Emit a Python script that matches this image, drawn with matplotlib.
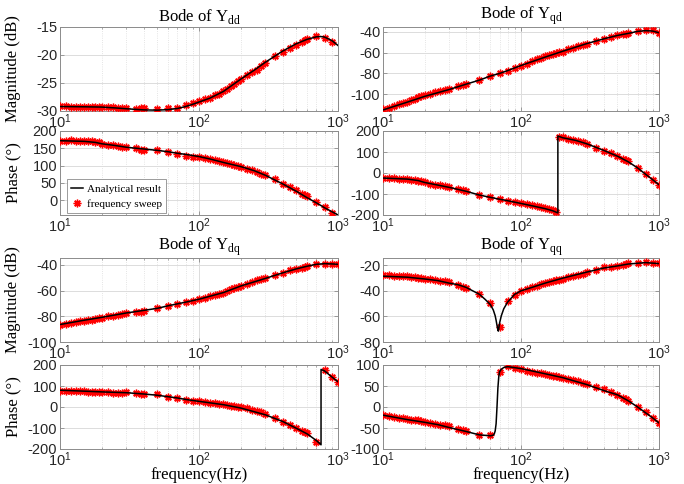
import numpy as np
import matplotlib
matplotlib.use('Agg')
import matplotlib.pyplot as plt
from matplotlib.lines import Line2D
from matplotlib.ticker import FixedLocator, FuncFormatter, LogLocator, NullFormatter

plt.rcParams['font.family'] = 'Liberation Sans'
plt.rcParams['axes.unicode_minus'] = False
plt.rcParams['mathtext.fontset'] = 'custom'
plt.rcParams['mathtext.rm'] = 'Liberation Serif'
plt.rcParams['mathtext.sf'] = 'Liberation Sans'

# --- frequency sweep points (Hz) ---
f_sweep = [10, 11, 12, 13, 14, 15, 16, 17, 18, 19, 20, 22, 24, 26, 28, 30, 35, 38, 40,
           50, 60, 70, 80, 90, 100, 110, 120, 130, 140, 150, 160, 170, 180, 190, 200,
           220, 240, 260, 280, 300, 350, 400, 450, 500, 550, 580, 600, 700, 800, 900, 1000]

# Ydd
ydd_mag_sweep = [-29.1, -29.15, -29.2, -29.2, -29.2, -29.25, -29.2, -29.25, -29.2, -29.25, -29.2,
                 -29.3, -29.35, -29.4, -29.5, -29.5, -29.6, -29.5, -29.55, -29.6, -29.55, -29.45,
                 -29.0, -28.6, -28.3, -27.9, -27.6, -27.2, -26.9, -26.5, -26.1, -25.6, -25.2,
                 -24.7, -24.3, -23.6, -23.0, -22.6, -21.9, -21.4, -20.2, -19.4, -18.8, -18.2,
                 -17.7, -17.4, -17.2, -16.6, -16.9, -17.6, np.nan]
ydd_ph_sweep = [171, 170, 173, 172, 171, 171, 170, 170, 169, 167, 162, 160, 159, 157, 155, 153,
                151, 146, 146, 144, 139, 133, 129, 124, 125, 122, 119, 116, 112, 110, 107, 105,
                102, 99, 97, 91, 87, 82, 77, 72, 62, 48, 38, 28, 19, 15, 11, -6, -21, -36, np.nan]
f_ydd_line = [10, 15, 18, 20, 25, 30, 40, 50, 60, 70, 80, 90, 100, 120, 150, 200, 250, 300,
              400, 500, 600, 700, 750, 800, 900, 1000]
ydd_mag_line = [-29.2, -29.25, -29.28, -29.3, -29.45, -29.6, -29.8, -29.85, -29.75, -29.55,
                -29.2, -28.8, -28.4, -27.7, -26.5, -24.3, -22.7, -21.3, -19.3, -18.0, -17.2,
                -16.75, -16.7, -16.8, -17.4, -18.3]
ydd_ph_line = [172, 170, 167, 163, 158, 153, 148, 144, 140, 135.5, 132.5, 129, 126, 119, 109,
               97, 85, 72, 47, 26, 7, -8, -15, -22, -33, -43]

# Yqd
yqd_mag_sweep = [-114.5, -113, -111, -109.5, -108, -107, -105.5, -104.5, -103, -102, -101,
                 -99.5, -98, -96.5, -95.5, -95, -92.5, -91, -90.5, -86, -82.5, -79.5, -77.5,
                 -75, -72.5, -70.5, -68.5, -66.5, -65, -63.5, -62.5, -61, -60, -59.5, -59,
                 -57, -55.5, -54, -53, -52, -49, -47, -45.5, -43.5, -42.5, -42, -41.5, -39.5,
                 -38.2, -38, -41]
yqd_ph_sweep = [-24, -25, -26, -27, -28, -30, -31, -33, -36, -40, -44, -50, -55, -59, -63, -67,
                -75, -80, -88, -106, -116, -124, -132, -139, -144, -148, -153, -158, -162, -166,
                -171, -178, -187, 172, 170, 164, 158, 154, 148, 140, 121, 107, 93, 80, 66, 60,
                55, 26, -5, -33, -57]
f_yqd_mag_line = [10, 15, 20, 30, 40, 50, 60, 70, 80, 100, 150, 200, 300, 400, 500, 600, 700,
                  800, 900, 1000]
yqd_mag_line = [-115, -107.5, -102, -95.5, -90.3, -86.4, -82.5, -80, -77.3, -72.4, -64.3,
                -58.8, -51.4, -46.8, -43.6, -41.6, -39.7, -39, -39.4, -41]
f_yqd_ph_line = [10, 15, 18, 20, 30, 40, 50, 60, 70, 80, 100, 120, 150, 170, 185, 185, 200,
                 250, 300, 400, 500, 600, 700, 800, 900, 1000]
yqd_ph_line = [-24, -29, -36, -45, -68, -87, -105, -116, -125, -132, -145, -156, -170, -180,
               -190, 176, 168, 155, 139, 107, 80, 53, 24, -6, -32, -56]

# Ydq
ydq_mag_sweep = [-86.5, -86, -85, -84.5, -84, -83.5, -83, -82.5, -82, -81.5, -81, -80, -79.5,
                 -79, -78, -77.5, -77, -76.5, -76, -73.5, -72, -70.5, -69, -68, -66.8, -65.5,
                 -64.5, -63.5, -62.5, -61.5, -60.5, -59, -58, -57.5, -56.5, -55, -53.5, -52,
                 -51, -50.5, -47.5, -46, -44, -43, -42, -41.5, -41, -39.5, -39, -39.3, -39.5]
ydq_ph_sweep = [78, 77, 76, 75, 74, 74, 73, 73, 72, 72, 72, 70, 68, 67, 68, 72, 66, 64, 62, 62,
                48, 42, 34, 30, 27, 24, 21, 18, 15, 12, 10, 7, 5, 2, -2, -7, -12, -17, -24, -32,
                -52, -70, -85, -100, -112, -118, -124, -165, 174, 142, 118]
f_ydq_mag_line = [10, 15, 20, 30, 40, 50, 60, 70, 80, 100, 150, 200, 300, 400, 500, 600, 700,
                  800, 900, 1000]
ydq_mag_line = [-86.4, -83, -80.8, -77.4, -75.4, -73.8, -71.8, -70.3, -69, -66.7, -61.5, -56.4,
                -50.5, -46.2, -43.1, -41, -39.5, -39, -39.2, -39.5]
f_ydq_ph_line = [10, 20, 30, 40, 50, 60, 70, 80, 100, 150, 200, 300, 400, 500, 600, 700, 755,
                 755, 800, 900, 1000]
ydq_ph_line = [80, 72, 68, 62, 56, 49, 43, 36, 27, 11, -5, -37, -69, -101, -128, -160, -180,
               179, 172, 144, 120]

# Yqq
yqq_mag_sweep = [-27.8, -27.8, -28, -28, -28.2, -28.4, -28.8, -29.2, -29.6, -30, -30.5, -31,
                 -31.5, -32, -32.5, -33, -35.5, -37.2, -38, -42.5, -49.5, -68.5, -47.8, -43.2,
                 -40.5, -38.5, -37, -36, -35, -34, -33.3, -32.5, -31.8, -31.2, -30.6, -29.5,
                 -28.5, -27.8, -27, -25.5, -23.8, -21.5, -21, -20.5, -19.5, -18.8, -18.5,
                 -18.3, -17.8, -18.2, -18.6]
yqq_ph_sweep = [-18, -21, -23, -25, -27, -28, -30, -31, -32, -34, -35, -37, -40, -42, -44, -46,
                -52, -55, -58, -67, -67, 83, 97, 93, 90, 86, 84, 82, 80, 78, 76, 75, 73, 71, 70,
                67, 64, 61, 58, 55, 48, 42, 35, 29, 22, 18, 15, 0, -13, -26, -38]
f_yqq_mag_line = [10, 15, 20, 25, 30, 35, 40, 50, 55, 60, 63, 65, 66, 67, 68, 68.5, 69, 70, 72,
                  75, 80, 90, 100, 120, 150, 200, 300, 400, 500, 600, 800, 1000]
yqq_mag_line = [-28.5, -29.3, -30.7, -32, -33.9, -35.2, -37.3, -42.7, -46.7, -50.7, -55, -59.5,
                -63, -67, -70.5, -71.5, -69.5, -65, -59.5, -54, -48.8, -42.7, -40, -37.3,
                -33.9, -30.1, -25.3, -22.1, -20.5, -19, -17.9, -18.7]
f_yqq_ph_line = [10, 15, 20, 25, 30, 40, 50, 60, 63, 64, 65, 66, 67, 68, 69, 70, 72, 75, 80,
                 100, 150, 200, 300, 400, 500, 600, 700, 800, 900, 1000]
yqq_ph_line = [-19.4, -30, -36.4, -42, -48.6, -58.3, -66.4, -68.5, -67, -64, -57, -40, 0, 45,
               72, 84, 90, 94, 96, 91.5, 79, 70, 53.4, 39, 29, 14.6, 0, -13.8, -26, -38]

GRID = '#dcdcdc'
FRAME = '#8c8c8c'
TXT = '#262626'
ASTERISK = (8, 2, 0)


def bode_panel(ax, f_line, y_line, y_sweep, ylim, yticks):
    ax.plot(f_sweep, y_sweep, linestyle='none', marker=ASTERISK, ms=5.5, mew=1.0,
            color='red', zorder=3)
    ax.plot(f_line, y_line, color='black', lw=1.1, zorder=4)
    ax.set_xscale('log')
    ax.set_xlim(10, 1000)
    ax.set_ylim(*ylim)
    ax.xaxis.set_major_locator(FixedLocator([10, 100, 1000]))
    ax.xaxis.set_major_formatter(
        FuncFormatter(lambda v, p: r'$\mathsf{10^{%d}}$' % round(np.log10(v))))
    ax.xaxis.set_minor_locator(LogLocator(base=10, subs=np.arange(2, 10)))
    ax.xaxis.set_minor_formatter(NullFormatter())
    ax.set_yticks(yticks)
    ax.grid(True, which='major', color=GRID, lw=0.7, ls='-')
    ax.grid(True, which='minor', axis='x', color=GRID, lw=0.6, ls=':')
    ax.set_axisbelow(True)
    ax.tick_params(which='both', direction='in', top=True, right=True, colors=FRAME,
                   labelcolor=TXT, labelsize=10.5, pad=2)
    ax.tick_params(axis='x', which='major', pad=1)
    ax.tick_params(which='major', length=3, width=0.6)
    ax.tick_params(which='minor', length=1.5, width=0.5)
    for s in ax.spines.values():
        s.set_color(FRAME)
        s.set_linewidth(0.7)


fig = plt.figure(figsize=(6.84, 4.84), dpi=100)

L_LEFT, L_W = 60 / 684, 278 / 684
R_LEFT, R_W = 383 / 684, 276 / 684
MAG_TOP_B, PH_TOP_B = (484 - 111) / 484, (484 - 215) / 484
MAG_BOT_B, PH_BOT_B = (484 - 342) / 484, (484 - 449) / 484
H_MAG, H_PH = 84 / 484, 84 / 484

ax1 = fig.add_axes([L_LEFT, MAG_TOP_B, L_W, H_MAG])
ax2 = fig.add_axes([L_LEFT, PH_TOP_B, L_W, H_PH])
ax3 = fig.add_axes([R_LEFT, MAG_TOP_B, R_W, H_MAG])
ax4 = fig.add_axes([R_LEFT, PH_TOP_B, R_W, H_PH])
ax5 = fig.add_axes([L_LEFT, MAG_BOT_B, L_W, H_MAG])
ax6 = fig.add_axes([L_LEFT, PH_BOT_B, L_W, H_PH])
ax7 = fig.add_axes([R_LEFT, MAG_BOT_B, R_W, H_MAG])
ax8 = fig.add_axes([R_LEFT, PH_BOT_B, R_W, H_PH])

bode_panel(ax1, f_ydd_line, ydd_mag_line, ydd_mag_sweep, (-30, -15), [-30, -25, -20, -15])
bode_panel(ax2, f_ydd_line, ydd_ph_line, ydd_ph_sweep, (-43, 200), [0, 50, 100, 150, 200])
bode_panel(ax3, f_yqd_mag_line, yqd_mag_line, yqd_mag_sweep, (-116, -35.5), [-100, -80, -60, -40])
bode_panel(ax4, f_yqd_ph_line, yqd_ph_line, yqd_ph_sweep, (-200, 200), [-200, -100, 0, 100, 200])
bode_panel(ax5, f_ydq_mag_line, ydq_mag_line, ydq_mag_sweep, (-100, -34.6), [-100, -80, -60, -40])
bode_panel(ax6, f_ydq_ph_line, ydq_ph_line, ydq_ph_sweep, (-200, 200), [-200, -100, 0, 100, 200])
bode_panel(ax7, f_yqq_mag_line, yqq_mag_line, yqq_mag_sweep, (-80, -14.3), [-80, -60, -40, -20])
bode_panel(ax8, f_yqq_ph_line, yqq_ph_line, yqq_ph_sweep, (-100, 100), [-100, -50, 0, 50, 100])

serif = dict(family='Liberation Serif', size=12, color='black')
for ax, sub in [(ax1, 'dd'), (ax3, 'qd'), (ax5, 'dq'), (ax7, 'qq')]:
    ax.set_title(r'Bode of Y$_{\mathrm{%s}}$' % sub, fontdict=serif, pad=4)

for ax in (ax1, ax5):
    ax.set_ylabel('Magnitude (dB)', fontdict=serif)
    ax.yaxis.set_label_coords(-0.14, 0.5)
for ax in (ax2, ax6):
    ax.set_ylabel('Phase (°)', fontdict=serif)
    ax.yaxis.set_label_coords(-0.14, 0.5)
for ax in (ax6, ax8):
    ax.set_xlabel('frequency(Hz)', fontdict=serif, labelpad=-1.5)

handles = [Line2D([], [], color='black', lw=1.1),
           Line2D([], [], linestyle='none', marker=ASTERISK, ms=5.5, mew=1.0, color='red')]
leg = ax2.legend(handles, ['Analytical result', 'frequency sweep'], loc='lower left',
                 bbox_to_anchor=(0.025, 0.02), prop={'family': 'Liberation Serif', 'size': 8},
                 frameon=True, fancybox=False, framealpha=1, edgecolor=FRAME,
                 handlelength=1.0, handletextpad=0.4, labelspacing=0.5, borderpad=0.4,
                 borderaxespad=0)
leg.get_frame().set_linewidth(0.6)

fig.savefig('out.png', dpi=100)
